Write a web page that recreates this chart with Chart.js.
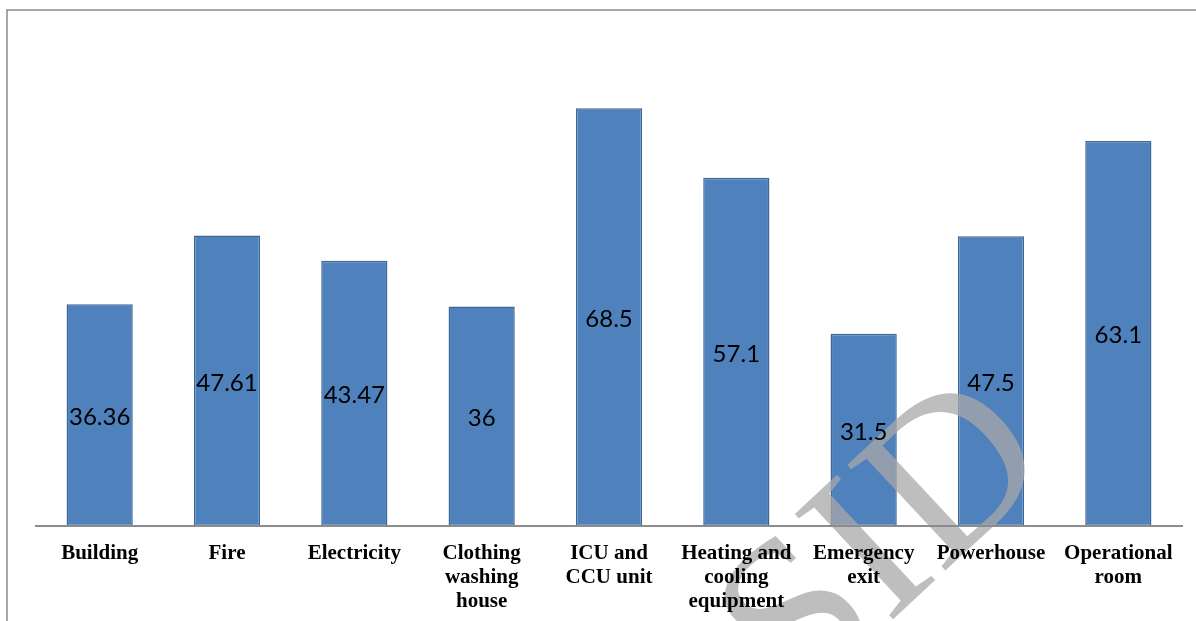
<!DOCTYPE html>
<html>
<head>
<meta charset="utf-8">
<script src="https://cdn.jsdelivr.net/npm/chart.js@4.4.0/dist/chart.umd.min.js"></script>
<style>
    html, body { margin: 0; padding: 0; background: #fff; }
    #wrap { width: 1196px; height: 621px; position: relative; }
</style>
</head>
<body>
<div id="wrap"><canvas id="barChart"></canvas></div>
<script>
const categories = [
    "Building",
    "Fire",
    "Electricity",
    ["Clothing", "washing", "house"],
    ["ICU and", "CCU unit"],
    ["Heating and", "cooling", "equipment"],
    ["Emergency", "exit"],
    "Powerhouse",
    ["Operational", "room"],
];
const values = [36.36, 47.61, 43.47, 36, 68.5, 57.1, 31.5, 47.5, 63.1];
const valueLabels = ["36.36", "47.61", "43.47", "36", "68.5", "57.1", "31.5", "47.5", "63.1"];

// Frame around the chart (top and left edges visible)
const framePlugin = {
    id: "frame",
    beforeDraw(chart) {
        const ctx = chart.ctx;
        ctx.save();
        ctx.fillStyle = "#ffffff";
        ctx.fillRect(0, 0, chart.width, chart.height);
        ctx.strokeStyle = "#8a8a8a";
        ctx.lineWidth = 1.5;
        ctx.beginPath();
        ctx.moveTo(7, chart.height);
        ctx.lineTo(7, 10);
        ctx.lineTo(chart.width, 10);
        ctx.stroke();
        ctx.restore();
    },
};

// Watermark over the bars, under the axis labels
const watermarkPlugin = {
    id: "watermark",
    afterDatasetsDraw(chart) {
        const ctx = chart.ctx;
        ctx.save();
        ctx.translate(888, 545);
        ctx.rotate(-43 * Math.PI / 180);
        ctx.font = "220px 'Liberation Serif', serif";
        ctx.fillStyle = "rgba(168, 168, 168, 0.75)";
        ctx.textAlign = "center";
        ctx.textBaseline = "middle";
        ctx.fillText("SID", 0, 0);
        ctx.restore();
    },
};

// Value labels centred inside each bar
const valueLabelPlugin = {
    id: "valueLabels",
    afterDatasetsDraw(chart) {
        const ctx = chart.ctx;
        const meta = chart.getDatasetMeta(0);
        ctx.save();
        ctx.font = "24px Lato, 'Open Sans', sans-serif";
        ctx.fillStyle = "#000000";
        ctx.textAlign = "center";
        ctx.textBaseline = "middle";
        meta.data.forEach((bar, i) => {
            ctx.fillText(valueLabels[i], bar.x, (bar.y + bar.base) / 2 + 2);
        });
        ctx.restore();
    },
};

function renderChart() {
    const ctx = document.getElementById("barChart").getContext("2d");
    new Chart(ctx, {
        type: "bar",
        data: {
            labels: categories,
            datasets: [
                {
                    data: values,
                    backgroundColor: "#4f81bd",
                    borderColor: "#3c6796",
                    borderWidth: 1.5,
                    borderSkipped: false,
                    barPercentage: 0.52,
                    categoryPercentage: 1,
                },
            ],
        },
        options: {
            responsive: true,
            maintainAspectRatio: false,
            animation: false,
            layout: { padding: { left: 36, right: 14, top: 38, bottom: 0 } },
            plugins: {
                legend: { display: false },
                tooltip: { enabled: false },
            },
            scales: {
                x: {
                    grid: { display: false },
                    border: { display: true, color: "#8c8c8c", width: 2, z: 1 },
                    ticks: {
                        z: 1,
                        color: "#000000",
                        padding: 8,
                        maxRotation: 0,
                        autoSkip: false,
                        font: { family: "'Liberation Serif', serif", size: 21, weight: "bold", lineHeight: "24px" },
                    },
                    afterFit(scale) {
                        scale.height = 95;
                    },
                },
                y: {
                    display: false,
                    min: 0,
                    max: 80,
                },
            },
        },
        plugins: [framePlugin, watermarkPlugin, valueLabelPlugin],
    });
}

renderChart();
</script>
</body>
</html>
